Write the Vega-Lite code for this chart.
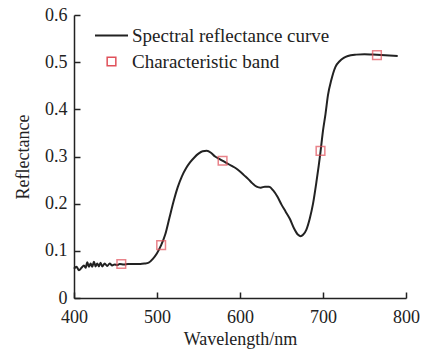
{
  "$schema": "https://vega.github.io/schema/vega-lite/v6.json",
  "autosize": "none",
  "width": 332,
  "height": 283,
  "padding": {"left": 74, "top": 15, "right": 18, "bottom": 56},
  "background": "white",
  "config": {
    "view": {"stroke": null},
    "font": "Liberation Serif",
    "axis": {"grid": false, "labelFlush": false, "domainColor": "#222", "domainWidth": 1.5, "tickColor": "#222", "tickWidth": 1.5, "labelFont": "Liberation Serif", "titleFont": "Liberation Serif", "labelFontSize": 18, "titleFontSize": 18, "labelColor": "#222", "titleColor": "#222", "titleFontWeight": "normal"}
  },
  "datasets": {
    "curve": [
      {"wl": 400, "r": 0.062}, {"wl": 403, "r": 0.066}, {"wl": 406, "r": 0.059}, {"wl": 409, "r": 0.064},
      {"wl": 412, "r": 0.069}, {"wl": 414, "r": 0.064}, {"wl": 416, "r": 0.076}, {"wl": 418, "r": 0.066},
      {"wl": 420, "r": 0.073}, {"wl": 422, "r": 0.066}, {"wl": 424, "r": 0.077}, {"wl": 426, "r": 0.067},
      {"wl": 428, "r": 0.073}, {"wl": 430, "r": 0.067}, {"wl": 432, "r": 0.075}, {"wl": 434, "r": 0.067},
      {"wl": 437, "r": 0.073}, {"wl": 440, "r": 0.068}, {"wl": 443, "r": 0.073}, {"wl": 446, "r": 0.069},
      {"wl": 449, "r": 0.071}, {"wl": 452, "r": 0.070}, {"wl": 455, "r": 0.072}, {"wl": 460, "r": 0.071},
      {"wl": 465, "r": 0.072}, {"wl": 470, "r": 0.072}, {"wl": 475, "r": 0.072}, {"wl": 480, "r": 0.072},
      {"wl": 485, "r": 0.073}, {"wl": 490, "r": 0.075}, {"wl": 495, "r": 0.083}, {"wl": 500, "r": 0.095},
      {"wl": 505, "r": 0.112}, {"wl": 510, "r": 0.135}, {"wl": 515, "r": 0.17}, {"wl": 520, "r": 0.205},
      {"wl": 525, "r": 0.235}, {"wl": 530, "r": 0.258}, {"wl": 535, "r": 0.275}, {"wl": 540, "r": 0.288},
      {"wl": 545, "r": 0.298}, {"wl": 550, "r": 0.306}, {"wl": 555, "r": 0.311}, {"wl": 560, "r": 0.312},
      {"wl": 565, "r": 0.308}, {"wl": 570, "r": 0.300}, {"wl": 575, "r": 0.295}, {"wl": 580, "r": 0.290},
      {"wl": 585, "r": 0.285}, {"wl": 590, "r": 0.280}, {"wl": 595, "r": 0.275}, {"wl": 600, "r": 0.268},
      {"wl": 605, "r": 0.260}, {"wl": 610, "r": 0.252}, {"wl": 615, "r": 0.243}, {"wl": 620, "r": 0.236},
      {"wl": 625, "r": 0.234}, {"wl": 630, "r": 0.236}, {"wl": 635, "r": 0.236}, {"wl": 640, "r": 0.228},
      {"wl": 645, "r": 0.215}, {"wl": 650, "r": 0.198}, {"wl": 655, "r": 0.183}, {"wl": 660, "r": 0.168},
      {"wl": 665, "r": 0.148}, {"wl": 670, "r": 0.134}, {"wl": 673, "r": 0.131}, {"wl": 676, "r": 0.134},
      {"wl": 680, "r": 0.145}, {"wl": 684, "r": 0.168}, {"wl": 688, "r": 0.2}, {"wl": 692, "r": 0.245},
      {"wl": 697, "r": 0.31}, {"wl": 700, "r": 0.355}, {"wl": 703, "r": 0.39}, {"wl": 706, "r": 0.43},
      {"wl": 710, "r": 0.462}, {"wl": 715, "r": 0.49}, {"wl": 720, "r": 0.502}, {"wl": 725, "r": 0.509},
      {"wl": 730, "r": 0.513}, {"wl": 740, "r": 0.516}, {"wl": 750, "r": 0.517}, {"wl": 760, "r": 0.516},
      {"wl": 770, "r": 0.515}, {"wl": 780, "r": 0.514}, {"wl": 790, "r": 0.513}
    ],
    "bands": [
      {"wl": 457, "r": 0.072}, {"wl": 505, "r": 0.112}, {"wl": 579, "r": 0.291},
      {"wl": 697, "r": 0.312}, {"wl": 765, "r": 0.515}
    ]
  },
  "encoding": {
    "x": {"field": "wl", "type": "quantitative", "scale": {"domain": [400, 800], "nice": false},
      "axis": {"title": "Wavelength/nm", "values": [400, 500, 600, 700, 800], "tickSize": -6, "labelPadding": 16, "titlePadding": 4}},
    "y": {"field": "r", "type": "quantitative", "scale": {"domain": [0, 0.6], "nice": false},
      "axis": {"title": "Reflectance", "values": [0, 0.1, 0.2, 0.3, 0.4, 0.5, 0.6], "labelExpr": "datum.value === 0 ? '0' : format(datum.value, '.1f')", "tickSize": -6, "labelPadding": 13, "titlePadding": 12}}
  },
  "layer": [
    {
      "data": {"name": "curve"},
      "mark": {"type": "line", "strokeWidth": 2, "interpolate": "monotone"},
      "encoding": {
        "color": {"datum": "Spectral reflectance curve", "type": "nominal",
          "scale": {"domain": ["Spectral reflectance curve", "Characteristic band"], "range": ["#222222", "#e0505a"]},
          "legend": {"title": null, "orient": "none", "legendX": 28, "legendY": 11, "labelFontSize": 19, "labelFont": "Liberation Serif", "labelColor": "#222", "labelLimit": 400, "symbolSize": 1089, "rowPadding": 6, "labelOffset": 11,
            "encode": {"symbols": {"update": {
              "shape": {"signal": "datum.value === 'Spectral reflectance curve' ? 'stroke' : 'square'"},
              "size": {"signal": "datum.value === 'Spectral reflectance curve' ? 1089 : 75"},
              "strokeWidth": {"signal": "datum.value === 'Spectral reflectance curve' ? 2 : 1.5"},
              "fill": {"value": "transparent"}}}}}}
      }
    },
    {
      "data": {"name": "bands"},
      "mark": {"type": "point", "shape": "square", "filled": false, "size": 75, "strokeWidth": 1.5},
      "encoding": {
        "color": {"datum": "Characteristic band", "type": "nominal"}
      }
    }
  ]
}
